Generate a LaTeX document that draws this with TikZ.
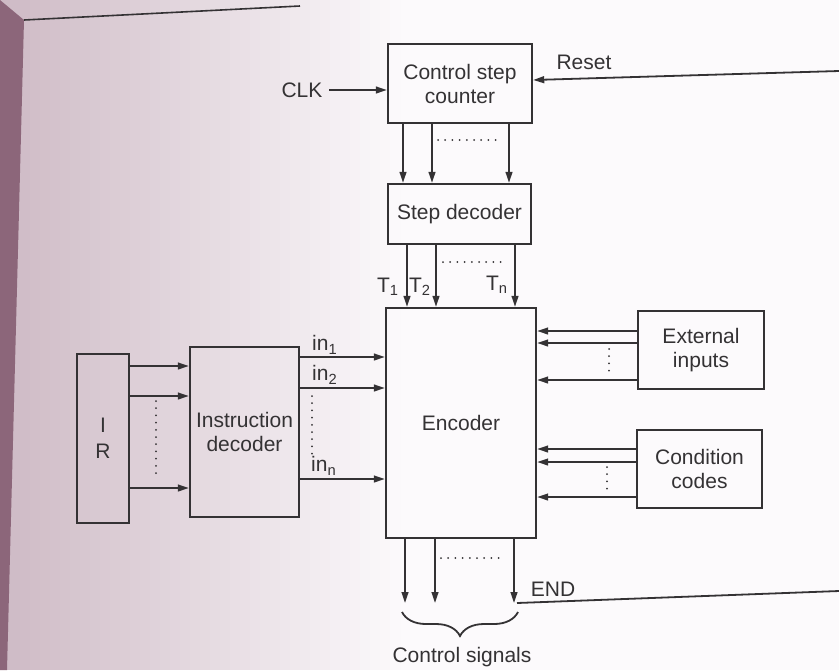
\documentclass[tikz,border=0pt]{standalone}
\usepackage{fontspec}
\setmainfont{Liberation Sans}
\usetikzlibrary{positioning,arrows.meta,decorations.pathreplacing}

\definecolor{pageleft}{RGB}{206,186,197}
\definecolor{pageright}{RGB}{252,250,252}
\definecolor{binding}{RGB}{140,102,122}
\definecolor{ink}{RGB}{52,50,52}

\begin{document}
\begin{tikzpicture}[x=0.5pt, y=-0.5pt, font=\fontsize{10.5}{12}\selectfont, text=ink,
  blk/.style={draw=ink, line width=1.2pt, align=center, inner sep=0pt},
  sig/.style={draw=ink, line width=0.9pt, -{Triangle[length=5.5pt,width=3.4pt]}},
  wire/.style={draw=ink, line width=0.9pt},
  dots/.style={draw=ink, line width=1pt, line cap=round, dash pattern=on 0pt off 3.6pt}]
  % page
  \path[fill=pageright, use as bounding box] (0,0) rectangle (839,670);
  \foreach \i in {0,...,39}
    \fill[pageleft!\the\numexpr100-\i*100/40\relax!pageright] (\i*10,0) rectangle (\i*10+11,670);
  \fill[binding] (0,0) -- (24,20) -- (7,670) -- (0,670) -- cycle;
  \draw[ink, line width=0.8pt] (24,20) -- (300,6);
  % blocks
  \node[blk, minimum width=72pt, minimum height=39.5pt] (csc) at (460,83.5) {Control step\\counter};
  \node[blk, minimum width=71.5pt, minimum height=30pt] (sd) at (459.5,214) {Step decoder};
  \node[blk, minimum width=75pt, minimum height=115pt] (enc) at (461,423) {Encoder};
  \node[blk, minimum width=26pt, minimum height=84.5pt] (ir) at (103,438.5) {I\\[1pt]R};
  \node[blk, minimum width=54.5pt, minimum height=85pt] (id) at (244.5,432) {Instruction\\decoder};
  \node[blk, minimum width=63pt, minimum height=39pt] (ext) at (701,350) {External\\inputs};
  \node[blk, minimum width=62.5pt, minimum height=39pt] (cc) at (699.5,469) {Condition\\codes};
  % CLK and Reset
  \node (clk) at (302,90) {CLK};
  \draw[sig] (clk.east) -- (csc.west |- clk.east);
  \coordinate (rst) at (839,71);
  \node (rstlbl) at (584,62) {Reset};
  \draw[sig] (rst) -- (csc.east |- 0,80);
  % counter -> step decoder
  \foreach \x in {403,432,509}
    \draw[sig] (csc.south -| \x,0) -- (sd.north -| \x,0);
  \draw[dots] (438,140) -- (500,140);
  % step decoder -> encoder
  \foreach \x in {407,436,515}
    \draw[sig] (sd.south -| \x,0) -- (enc.north -| \x,0);
  \draw[dots] (443,262) -- (507,262);
  \node (t1) at (388,287) {T\textsubscript{1}};
  \node (t2) at (420,287) {T\textsubscript{2}};
  \node (tn) at (497,285) {T\textsubscript{n}};
  % IR -> instruction decoder
  \foreach \y in {366,396,488}
    \draw[sig] (ir.east |- 0,\y) -- (id.west |- 0,\y);
  \draw[dots] (156,401) -- (156,474);
  % instruction decoder -> encoder
  \foreach \y in {357,388,479}
    \draw[sig] (id.east |- 0,\y) -- (enc.west |- 0,\y);
  \draw[dots] (312,396) -- (312,454);
  \node (in1) at (325,345) {in\textsubscript{1}};
  \node (in2) at (325,375) {in\textsubscript{2}};
  \node (inn) at (324,466) {in\textsubscript{n}};
  % external inputs and condition codes -> encoder
  \foreach \y in {331,343,380}
    \draw[sig] (ext.west |- 0,\y) -- (enc.east |- 0,\y);
  \draw[dots] (609,349) -- (609,374);
  \foreach \y in {449,462,497}
    \draw[sig] (cc.west |- 0,\y) -- (enc.east |- 0,\y);
  \draw[dots] (607,467) -- (607,491);
  % encoder outputs
  \coordinate (cs1) at (405,603);
  \coordinate (cs2) at (435,603);
  \coordinate (csn) at (514,603);
  \draw[sig] (enc.south -| cs1) -- (cs1);
  \draw[sig] (enc.south -| cs2) -- (cs2);
  \draw[sig] (enc.south -| csn) -- (csn);
  \draw[dots] (441,558) -- (505,558);
  \node (endlbl) at (553,589) {END};
  \coordinate (endr) at (839,591);
  \draw[wire] (517,603) -- (endr);
  % control signals
  \draw[wire, decorate, decoration={brace, amplitude=12pt, raise=0pt}] (518,612) -- (402,612);
  \node (cslbl) at (462,657) {Control signals};
\end{tikzpicture}
\end{document}
